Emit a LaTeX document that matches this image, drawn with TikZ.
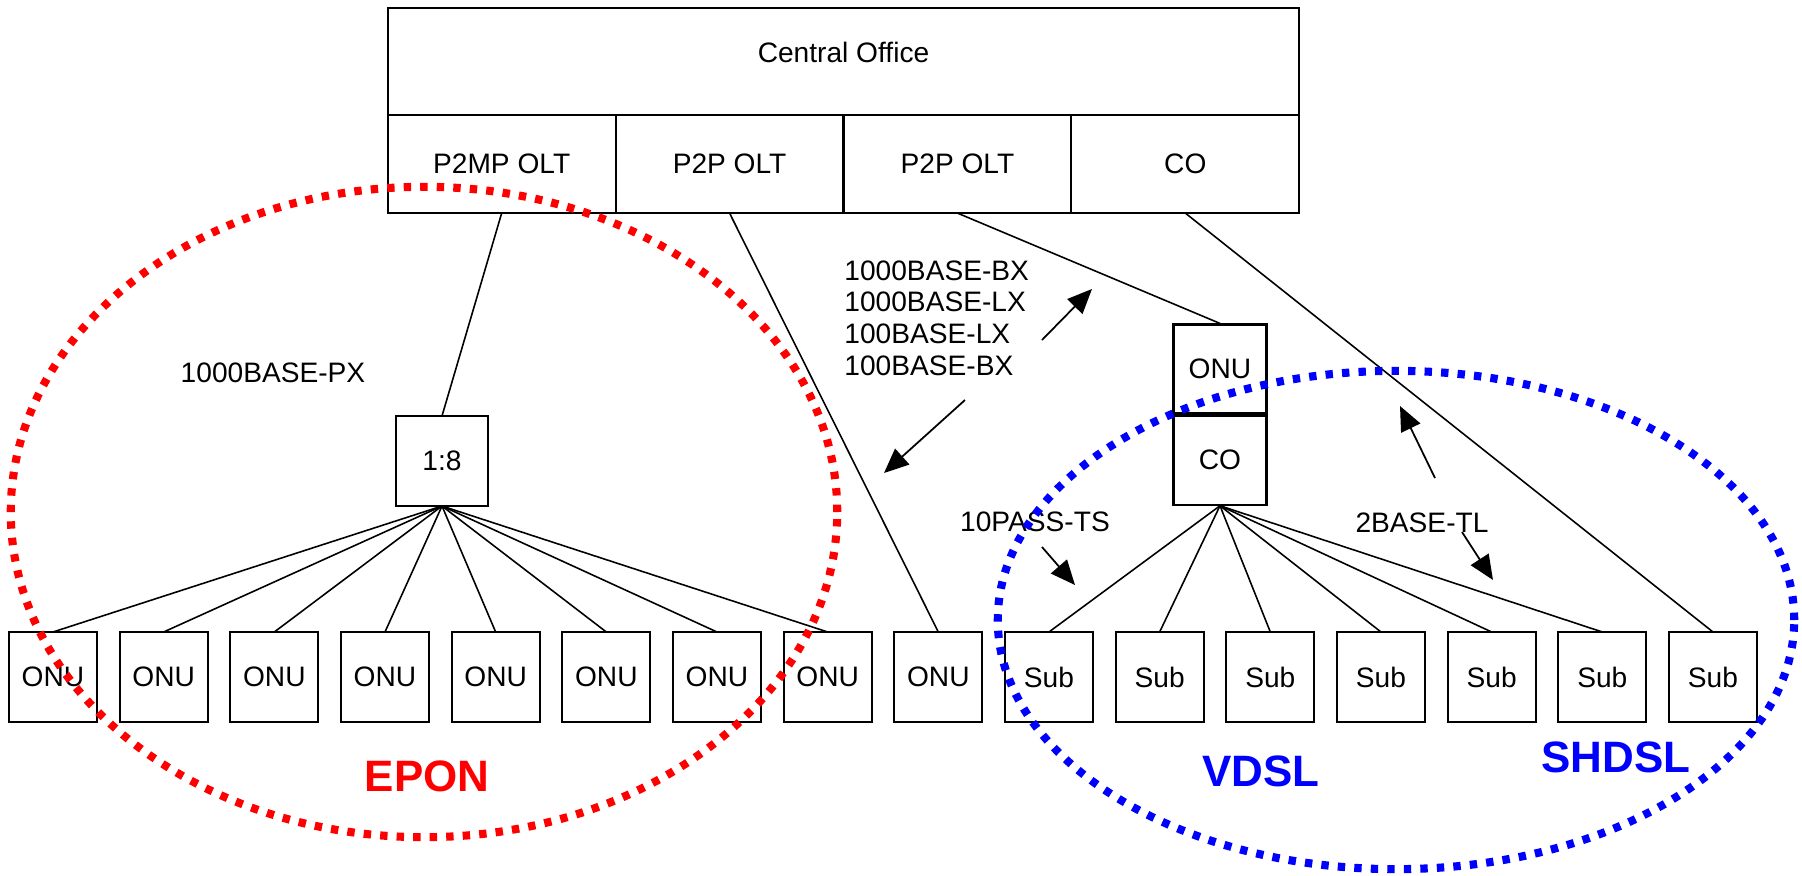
\documentclass[tikz,border=0pt]{standalone}
\usepackage{fontspec}
\setmainfont{Liberation Sans}
\usetikzlibrary{arrows.meta,positioning}
\definecolor{eponred}{HTML}{FF0000}
\definecolor{dslblue}{HTML}{0000FF}

\begin{document}
\begin{tikzpicture}[x=0.01cm,y=0.01cm,font=\fontsize{8}{9}\selectfont,>=Latex,node distance=2.26mm]
\tikzset{box/.style={draw,line width=0.6pt,outer sep=0pt,minimum width=8.8mm,minimum height=9mm,inner sep=1pt}, cell/.style={draw,line width=0.6pt,outer sep=0pt,minimum width=22.775mm,minimum height=9.8mm}, ln/.style={line width=0.45pt}, a/.style={-{Triangle[length=7pt,width=6pt]},line width=0.5pt}, ring/.style={line width=2.3pt,dash pattern=on 2.1pt off 2.6pt}, tag/.style={font=\fontsize{12.5}{14}\selectfont\bfseries}}
\useasboundingbox (0,0) rectangle (1802,-875);

% central office and its line cards
\node[draw,line width=0.6pt,outer sep=0pt,minimum width=91.1mm,minimum height=10.7mm,text depth=1.8mm] (office) at (843.5,-61.5) {Central Office};
\node[cell,anchor=north west] (olt1) at (office.south west) {P2MP OLT};
\node[cell,right=0pt of olt1] (olt2) {P2P OLT};
\node[cell,right=0pt of olt2] (olt3) {P2P OLT};
\node[cell,right=0pt of olt3] (cocard) {CO};

% splitter and remote ONU/CO cabinet
\node[box,minimum width=9.2mm] (split) at (442,-461) {1:8};
\node[box,minimum width=9.3mm,minimum height=8.9mm,outer sep=0.3pt] (ronu) at (1220,-369) {ONU};
\node[box,minimum width=9.3mm,minimum height=8.9mm,outer sep=0.3pt,below=0pt of ronu] (rco) {CO};

% subscriber row
\node[box] (u1) at (53,-677) {ONU};
\foreach \i [remember=\i as \p (initially 1)] in {2,...,9} \node[box,right=of u\p] (u\i) {ONU};
\node[box,right=of u9] (s1) {Sub};
\foreach \i [remember=\i as \p (initially 1)] in {2,...,7} \node[box,right=of s\p] (s\i) {Sub};

\draw[ln] (olt1.south)--(split.north);\draw[ln] (olt2.south)--(u9.north);\draw[ln] (olt3.south)--(ronu.north);\draw[ln] (cocard.south)--(s7.north);
\foreach \i in {1,...,8} \draw[ln] (split.south)--(u\i.north);
\foreach \i in {1,...,6} \draw[ln] (rco.south)--(s\i.north);

% media labels
\node (px) at (273,-373) {1000BASE-PX};
\node[align=left,anchor=west] (bx) at (832,-318) {1000BASE-BX\\1000BASE-LX\\100BASE-LX\\100BASE-BX};
\node (pass) at (1035,-522) {10PASS-TS};
\node (tl) at (1422,-523) {2BASE-TL};
\coordinate (bxa) at (1042,-340); \coordinate (bxb) at (1092,-289);
\coordinate (bxc) at (965,-400); \coordinate (bxd) at (884,-473);
\coordinate (pa) at (1042,-547); \coordinate (pb) at (1075,-585);
\coordinate (tla) at (1435,-478); \coordinate (tlb) at (1400,-406);
\coordinate (tlc) at (1462,-532); \coordinate (tld) at (1493,-580);
\draw[a] (bxa)--(bxb);\draw[a] (bxc)--(bxd);\draw[a] (pa)--(pb);\draw[a] (tla)--(tlb);\draw[a] (tlc)--(tld);

% access groups
\draw[ring,eponred] (424,-512) ellipse [x radius=4.13cm,y radius=3.25cm];
\draw[ring,dslblue] (1396,-620) ellipse [x radius=3.98cm,y radius=2.49cm];
\node[tag,text=eponred] (epon) at (427,-776) {EPON};
\node[tag,text=dslblue] (vdsl) at (1261,-771) {VDSL};
\node[tag,text=dslblue] (shdsl) at (1616,-757) {SHDSL};
\end{tikzpicture}
\end{document}
